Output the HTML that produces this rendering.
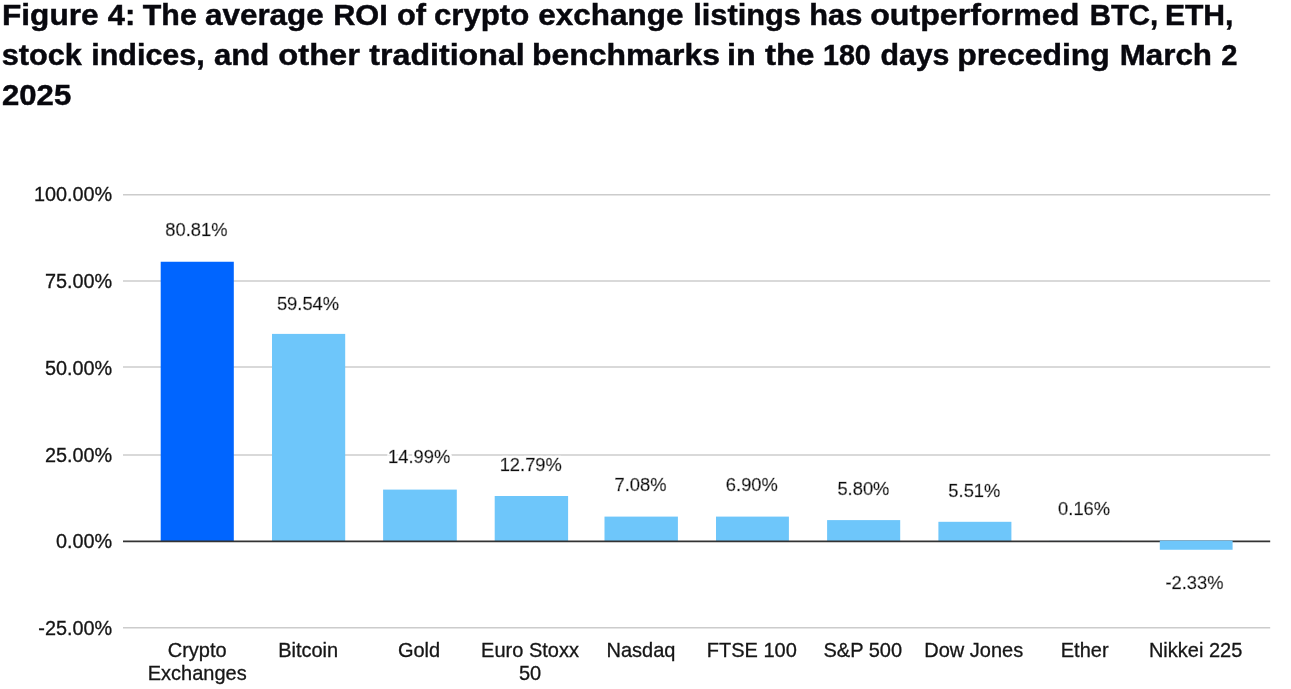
<!DOCTYPE html>
<html lang="en"><head><meta charset="utf-8"><title>Figure 4</title>
<style>
html,body{margin:0;padding:0;background:#fff;}
body{width:1291px;height:689px;overflow:hidden;font-family:"Liberation Sans",sans-serif;}
svg{display:block;}
.t{font-family:"Liberation Sans",sans-serif;font-weight:700;font-size:29px;fill:#08080e;stroke:#08080e;stroke-width:0.45px;}
.ax{font-family:"Liberation Sans",sans-serif;font-size:20px;fill:#161616;stroke:#161616;stroke-width:0.3px;}
.dl{font-family:"Liberation Sans",sans-serif;font-size:18.35px;fill:#101010;stroke:#101010;stroke-width:0.5px;}
</style></head><body>
<svg width="1291" height="689" viewBox="0 0 1291 689">
<defs><filter id="halo" x="-2%" y="-5%" width="104%" height="110%"><feMorphology in="SourceAlpha" operator="dilate" radius="1.6" result="d"/><feFlood flood-color="#ffffff" result="f"/><feComposite in="f" in2="d" operator="in" result="h"/><feMerge><feMergeNode in="h"/><feMergeNode in="SourceGraphic"/></feMerge></filter></defs>
<rect width="1291" height="689" fill="#ffffff"/>

<g class="t">
<text x="2.0" y="25" textLength="96.6" lengthAdjust="spacingAndGlyphs">Figure</text>
<text x="107.8" y="25" textLength="27.4" lengthAdjust="spacingAndGlyphs">4:</text>
<text x="142.8" y="25" textLength="54.0" lengthAdjust="spacingAndGlyphs">The</text>
<text x="205.0" y="25" textLength="118.7" lengthAdjust="spacingAndGlyphs">average</text>
<text x="333.2" y="25" textLength="54.6" lengthAdjust="spacingAndGlyphs">ROI</text>
<text x="397.0" y="25" textLength="29.0" lengthAdjust="spacingAndGlyphs">of</text>
<text x="434.0" y="25" textLength="95.3" lengthAdjust="spacingAndGlyphs">crypto</text>
<text x="538.3" y="25" textLength="145.2" lengthAdjust="spacingAndGlyphs">exchange</text>
<text x="693.2" y="25" textLength="107.8" lengthAdjust="spacingAndGlyphs">listings</text>
<text x="809.2" y="25" textLength="53.1" lengthAdjust="spacingAndGlyphs">has</text>
<text x="870.2" y="25" textLength="209.1" lengthAdjust="spacingAndGlyphs">outperformed</text>
<text x="1089.7" y="25" textLength="68.6" lengthAdjust="spacingAndGlyphs">BTC,</text>
<text x="1164.9" y="25" textLength="68.6" lengthAdjust="spacingAndGlyphs">ETH,</text>
<text x="1.7" y="64.7" textLength="80.2" lengthAdjust="spacingAndGlyphs">stock</text>
<text x="91.2" y="64.7" textLength="113.6" lengthAdjust="spacingAndGlyphs">indices,</text>
<text x="214.0" y="64.7" textLength="55.3" lengthAdjust="spacingAndGlyphs">and</text>
<text x="278.3" y="64.7" textLength="81.7" lengthAdjust="spacingAndGlyphs">other</text>
<text x="369.3" y="64.7" textLength="155.4" lengthAdjust="spacingAndGlyphs">traditional</text>
<text x="532.0" y="64.7" textLength="187.9" lengthAdjust="spacingAndGlyphs">benchmarks</text>
<text x="727.0" y="64.7" textLength="28.7" lengthAdjust="spacingAndGlyphs">in</text>
<text x="764.9" y="64.7" textLength="49.6" lengthAdjust="spacingAndGlyphs">the</text>
<text x="823.0" y="64.7" textLength="47.8" lengthAdjust="spacingAndGlyphs">180</text>
<text x="880.4" y="64.7" textLength="69.1" lengthAdjust="spacingAndGlyphs">days</text>
<text x="957.2" y="64.7" textLength="152.6" lengthAdjust="spacingAndGlyphs">preceding</text>
<text x="1119.7" y="64.7" textLength="92.3" lengthAdjust="spacingAndGlyphs">March</text>
<text x="1221.3" y="64.7" textLength="16.2" lengthAdjust="spacingAndGlyphs">2</text>
<text x="2.0" y="104.5" textLength="69.2" lengthAdjust="spacingAndGlyphs">2025</text>
</g>
<g stroke="#cccccc" stroke-width="1.5">
<line x1="123.0" x2="1270.2" y1="194.70" y2="194.70"/>
<line x1="123.0" x2="1270.2" y1="280.90" y2="280.90"/>
<line x1="123.0" x2="1270.2" y1="367.10" y2="367.10"/>
<line x1="123.0" x2="1270.2" y1="455.00" y2="455.00"/>
<line x1="123.0" x2="1270.2" y1="627.70" y2="627.70"/>
</g>
<rect x="160.70" y="261.75" width="73.10" height="279.65" fill="#0065ff"/>
<rect x="272.00" y="333.90" width="73.20" height="207.50" fill="#6ec6fa"/>
<rect x="383.10" y="489.60" width="73.70" height="51.80" fill="#6ec6fa"/>
<rect x="494.70" y="496.00" width="73.40" height="45.40" fill="#6ec6fa"/>
<rect x="604.50" y="516.60" width="73.40" height="24.80" fill="#6ec6fa"/>
<rect x="716.00" y="516.60" width="72.90" height="24.80" fill="#6ec6fa"/>
<rect x="827.10" y="520.10" width="73.10" height="21.30" fill="#6ec6fa"/>
<rect x="938.40" y="521.80" width="73.00" height="19.60" fill="#6ec6fa"/>
<rect x="1049.00" y="540.90" width="73.00" height="0.50" fill="#6ec6fa"/>
<line x1="123.0" x2="1270.2" y1="541.4" y2="541.4" stroke="#333333" stroke-width="1.7"/>
<rect x="1159.8" y="540.55" width="72.8" height="9.20" fill="#6ec6fa"/>
<g class="ax" text-anchor="end">
<text style="font-size:19.85px" transform="translate(112.2 201.10) scale(1 1.03)">100.00%</text>
<text style="font-size:19.85px" transform="translate(112.2 287.90) scale(1 1.03)">75.00%</text>
<text style="font-size:19.85px" transform="translate(112.2 374.50) scale(1 1.03)">50.00%</text>
<text style="font-size:19.85px" transform="translate(112.2 461.60) scale(1 1.03)">25.00%</text>
<text style="font-size:19.85px" transform="translate(112.2 548.25) scale(1 1.03)">0.00%</text>
<text style="font-size:19.85px" transform="translate(112.2 634.50) scale(1 1.03)">-25.00%</text>
</g>
<g class="ax" text-anchor="middle">
<text transform="translate(197.20 656.9) scale(1 1.03)">Crypto</text>
<text transform="translate(197.20 680.0) scale(1 1.03)">Exchanges</text>
<text transform="translate(308.13 656.9) scale(1 1.03)">Bitcoin</text>
<text transform="translate(419.06 656.9) scale(1 1.03)">Gold</text>
<text transform="translate(529.99 656.9) scale(1 1.03)">Euro Stoxx</text>
<text transform="translate(529.99 680.0) scale(1 1.03)">50</text>
<text transform="translate(640.92 656.9) scale(1 1.03)">Nasdaq</text>
<text transform="translate(751.85 656.9) scale(1 1.03)">FTSE 100</text>
<text transform="translate(862.78 656.9) scale(1 1.03)">S&amp;P 500</text>
<text transform="translate(973.71 656.9) scale(1 1.03)">Dow Jones</text>
<text transform="translate(1084.64 656.9) scale(1 1.03)">Ether</text>
<text transform="translate(1195.57 656.9) scale(1 1.03)">Nikkei 225</text>
</g>
<g class="dl" text-anchor="middle" filter="url(#halo)">
<text transform="translate(196.40 235.80) scale(1 1.0)">80.81%</text>
<text transform="translate(308.00 309.60) scale(1 1.0)">59.54%</text>
<text transform="translate(419.20 463.20) scale(1 1.0)">14.99%</text>
<text transform="translate(530.75 471.25) scale(1 1.0)">12.79%</text>
<text transform="translate(640.55 491.40) scale(1 1.0)">7.08%</text>
<text transform="translate(751.85 491.40) scale(1 1.0)">6.90%</text>
<text transform="translate(863.40 495.10) scale(1 1.0)">5.80%</text>
<text transform="translate(974.35 496.60) scale(1 1.0)">5.51%</text>
<text transform="translate(1084.10 514.70) scale(1 1.0)">0.16%</text>
<text transform="translate(1194.50 588.60) scale(1 1.0)">-2.33%</text>
</g>
</svg></body></html>
